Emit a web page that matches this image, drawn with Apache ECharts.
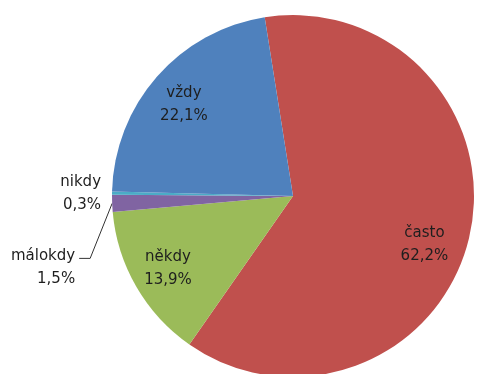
<!DOCTYPE html>
<html>
<head>
<meta charset="utf-8">
<script src="https://cdn.jsdelivr.net/npm/echarts@6/dist/echarts.min.js"></script>
<style>
html, body { margin: 0; padding: 0; background: #fff; }
#chart { width: 477px; height: 374px; }
</style>
</head>
<body>
<div id="chart"></div>
<script>
// data
var categories = ['často', 'někdy', 'málokdy', 'nikdy', 'vždy'];
var values = [62.2, 13.9, 1.5, 0.3, 22.1];
var colors = ['#C0504D', '#9BBB59', '#8064A2', '#4BACC6', '#4F81BD'];
var outsideLabels = ['málokdy', 'nikdy'];

var chart = echarts.init(document.getElementById('chart'));
var R = 181;
var center = [293, 196];
var textStyle = { fontFamily: 'DejaVu Sans', fontSize: 15, lineHeight: 23, color: '#1e1e1e' };

function fmt(p) {
    return p.name + '\n' + p.value.toFixed(1).replace('.', ',') + '%';
}

var option = {
    animation: false,
    series: [{
        // the pie itself + labels of the tiny slices (outside)
        type: 'pie',
        center: center,
        radius: [0, R],
        startAngle: 99,
        clockwise: true,
        avoidLabelOverlap: false,
        emphasis: { disabled: true },
        data: categories.map(function (c, i) {
            return {
                name: c,
                value: values[i],
                itemStyle: { color: colors[i] },
                label: { show: outsideLabels.indexOf(c) >= 0 },
                labelLine: { show: c === 'málokdy' }
            };
        }),
        label: Object.assign({ position: 'outside', formatter: fmt, align: 'center' }, textStyle),
        labelLine: { length: 0, length2: 6, lineStyle: { color: '#333', width: 1 } },
        labelLayout: function (p) {
            if (categories[p.dataIndex] !== 'málokdy') return;
            // move label down-left, leader line bends to it
            var r = p.labelRect;
            var dx = -26, dy = 64;
            var endX = r.x + r.width + dx + 4;
            var endY = r.y + dy + 14;
            return {
                dx: dx,
                dy: dy,
                labelLinePoints: [p.labelLinePoints[0], [endX + 11, endY], [endX, endY]]
            };
        }
    }, {
        // transparent ring only used to place the big labels
        type: 'pie',
        center: center,
        radius: [95, R],
        startAngle: 99,
        clockwise: true,
        silent: true,
        emphasis: { disabled: true },
        itemStyle: { color: 'rgba(0,0,0,0)' },
        data: categories.map(function (c, i) {
            return {
                name: c,
                value: values[i],
                label: c === 'často'
                    ? { show: true, offset: [-6, 17] }
                    : { show: outsideLabels.indexOf(c) < 0, offset: [-3, 2] }
            };
        }),
        label: Object.assign({ position: 'inside', formatter: fmt }, textStyle),
        labelLine: { show: false }
    }]
};
chart.setOption(option);
</script>
</body>
</html>
